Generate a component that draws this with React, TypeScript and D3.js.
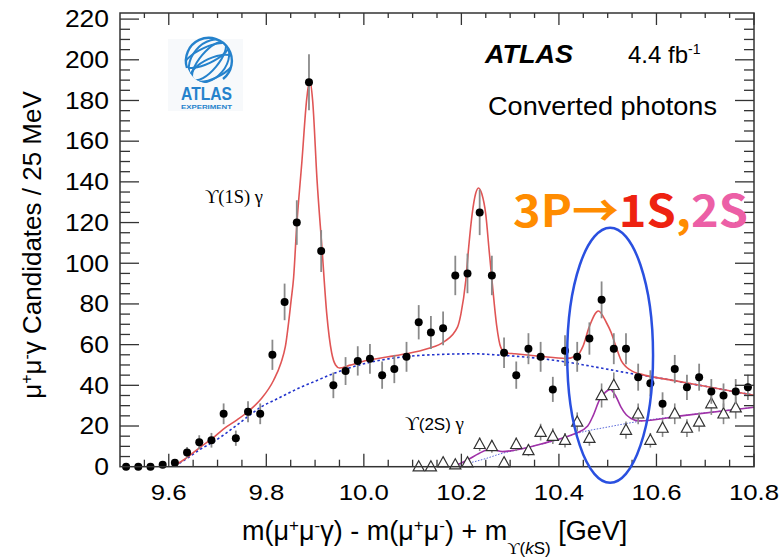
import React from "react";
import * as d3 from "d3";

const W = 782;
const H = 560;

// Bin centres (25 MeV bins) and counts for the Υ(1S)γ candidates
const massBins1S = [
  9.5125, 9.5375, 9.5625, 9.5875, 9.6125, 9.6375, 9.6625, 9.6875, 9.7125, 9.7375,
  9.7625, 9.7875, 9.8125, 9.8375, 9.8625, 9.8875, 9.9125, 9.9375, 9.9625, 9.9875,
  10.0125, 10.0375, 10.0625, 10.0875, 10.1125, 10.1375, 10.1625, 10.1875, 10.2125, 10.2375,
  10.2625, 10.2875, 10.3125, 10.3375, 10.3625, 10.3875, 10.4125, 10.4375, 10.4625, 10.4875,
  10.5125, 10.5375, 10.5625, 10.5875, 10.6125, 10.6375, 10.6625, 10.6875, 10.7125, 10.7375,
  10.7625, 10.7875,
];
const counts1S = [
  0, 0, 0, 1, 2, 7, 12, 13, 26, 14,
  27, 26, 55, 81, 120, 189, 106, 40, 47, 52,
  53, 45, 48, 54, 71, 66, 68, 94, 95, 125,
  94, 56, 45, 58, 54, 38, 57, 54, 63, 82,
  58, 58, 44, 41, 31, 48, 39, 44, 37, 35,
  37, 39,
];

// Bin centres and counts for the Υ(2S)γ candidates
const massBins2S = [
  10.1125, 10.1375, 10.1625, 10.1875, 10.2125, 10.2375, 10.2625, 10.2875, 10.3125, 10.3375,
  10.3625, 10.3875, 10.4125, 10.4375, 10.4625, 10.4875, 10.5125, 10.5375, 10.5625, 10.5875,
  10.6125, 10.6375, 10.6625, 10.6875, 10.7125, 10.7375, 10.7625,
];
const counts2S = [
  0, 0, 2, 1, 2, 11, 10, 2, 11, 8,
  17, 15, 13, 22, 14, 35, 40, 18, 26, 13,
  19, 26, 19, 22, 31, 26, 29,
];

// Fit curves: [mass, candidates]
const fit1S: [number, number][] = [
  [9.5, 0], [9.605, 0], [9.62, 1.8], [9.64, 5], [9.664, 9.5], [9.69, 14], [9.712, 18.5],
  [9.74, 23], [9.767, 28], [9.79, 33.5], [9.815, 42.5], [9.83, 51], [9.839, 59],
  [9.851, 82], [9.856, 93], [9.862, 117], [9.873, 150], [9.883, 181], [9.889, 190],
  [9.895, 180], [9.904, 141], [9.914, 108], [9.924, 75], [9.934, 56], [9.942, 50],
  [9.95, 48.5], [9.97, 49.8], [10.007, 52.3], [10.05, 54], [10.089, 55.6], [10.13, 58],
  [10.164, 61.3], [10.192, 68.6], [10.199, 75], [10.209, 91.5], [10.215, 108],
  [10.222, 124], [10.229, 134], [10.235, 137], [10.242, 134], [10.25, 124],
  [10.257, 106], [10.263, 91], [10.272, 70], [10.281, 58.5], [10.29, 56], [10.31, 55.5],
  [10.36, 54.3], [10.414, 53.2], [10.438, 54.8], [10.449, 59], [10.462, 68.6],
  [10.481, 76.5], [10.497, 71], [10.507, 66], [10.517, 59], [10.528, 52], [10.538, 49],
  [10.55, 47], [10.568, 45.5], [10.637, 42.3], [10.7, 39.5], [10.8, 35.1],
];
const bkg1S: [number, number][] = [
  [9.5, 0], [9.605, 0], [9.62, 1.5], [9.64, 4.5], [9.664, 8.5], [9.69, 12], [9.712, 15.5],
  [9.74, 20.5], [9.767, 25.5], [9.79, 29.5], [9.815, 32.5], [9.84, 35.5], [9.87, 39],
  [9.9, 42], [9.938, 45.8], [9.97, 48.5], [10.007, 51], [10.05, 53], [10.09, 54.2],
  [10.16, 55.2], [10.226, 55.5], [10.28, 54.8], [10.349, 53.5], [10.414, 51.5],
  [10.493, 48.2], [10.548, 45.8], [10.6, 43.8], [10.7, 39.5], [10.8, 35.1],
];
const fit2S: [number, number][] = [
  [9.5, 0], [10.18, 0], [10.192, 1], [10.2125, 3.3], [10.236, 6.5], [10.26, 8.7],
  [10.284, 7.4], [10.311, 8.2], [10.334, 9.3], [10.361, 11], [10.387, 12.7],
  [10.411, 14.4], [10.435, 16.5], [10.459, 20], [10.47, 25], [10.483, 32.7],
  [10.495, 36.5], [10.505, 38], [10.517, 34.5], [10.527, 29.4], [10.538, 25.5],
  [10.548, 23.7], [10.565, 22.5], [10.65, 25], [10.8, 29.2],
];
const bkg2S: [number, number][] = [
  [10.18, 0], [10.21, 1.5], [10.25, 4], [10.28, 6.3], [10.311, 8.1], [10.361, 10.9],
  [10.411, 14.2], [10.435, 16.2], [10.5, 19.5], [10.565, 22.3], [10.65, 25], [10.8, 29.2],
];

const xTickLabels = ["9.6", "9.8", "10.0", "10.2", "10.4", "10.6", "10.8"];
const yTickLabels = ["0", "20", "40", "60", "80", "100", "120", "140", "160", "180", "200", "220"];

const SANS = "'Liberation Sans', Arial, Helvetica, sans-serif";
const SERIF = "'Liberation Serif', 'Times New Roman', serif";

export default function App() {
  const left = 120, right = 754, top = 13, bottom = 466.7;
  const x = d3.scaleLinear().domain([9.5, 10.8]).range([left, right]);
  const y = d3.scaleLinear().domain([0, 223]).range([bottom, top]);

  const line = d3
    .line<[number, number]>()
    .x((d) => x(d[0]))
    .y((d) => y(d[1]))
    .curve(d3.curveMonotoneX);

  const minorX = d3.range(9.55, 10.8001, 0.05);
  const minorY = d3.range(5, 223, 5);
  const isMajorX = (v: number) => xTickLabels.some((t) => Math.abs(+t - v) < 1e-6);
  const isMajorY = (v: number) => v % 20 === 0;

  const axisColor = "#333";
  const errColor = "#8a8a8a";
  const logoBlue = "#2582cc";

  return (
    <svg width={W} height={H} style={{ display: "block", position: "absolute", left: 0, top: 0, background: "#fff" }}>
      <defs>
        <clipPath id="plot">
          <rect x={left} y={top} width={right - left} height={bottom - top} />
        </clipPath>
        <clipPath id="globe">
          <circle cx={0} cy={0} r={22.5} />
        </clipPath>
      </defs>

      {/* ATLAS logo */}
      <g>
        <rect x={168} y={39} width={75} height={72} fill="#f7f9fb" />
        <g transform="translate(209,61)" fill="none" stroke={logoBlue} strokeWidth={2.4}>
          <path d="M -22,7 A 23 23 0 1 1 14,18" />
          <g clipPath="url(#globe)" strokeWidth={2}>
            <ellipse rx={9} ry={24} transform="rotate(40)" />
            <ellipse rx={17} ry={24} transform="rotate(40)" />
            <ellipse rx={24} ry={8} transform="rotate(-25) translate(0,-6)" />
            <ellipse rx={24} ry={10} transform="rotate(-25) translate(0,8)" />
          </g>
        </g>
        <text x={181} y={99.5} fontFamily={SANS} fontWeight={700} fontSize={19} fill={logoBlue}
          textLength={51} lengthAdjust="spacingAndGlyphs">ATLAS</text>
        <text x={181} y={108.5} fontFamily={SANS} fontWeight={700} fontSize={6} fill={logoBlue}
          textLength={51} lengthAdjust="spacingAndGlyphs">EXPERIMENT</text>
      </g>

      {/* Fit curves */}
      <g clipPath="url(#plot)" fill="none">
        <path d={line(bkg1S) || ""} stroke="#2233cc" strokeWidth={1.6} strokeDasharray="2.5,2.5" />
        <path d={line(fit1S) || ""} stroke="#e05555" strokeWidth={1.6} />
        <path d={line(bkg2S) || ""} stroke="#4455d5" strokeWidth={0.9} strokeDasharray="1.5,1.5" />
        <path d={line(fit2S) || ""} stroke="#a032a8" strokeWidth={1.6} />
      </g>

      {/* Υ(2S)γ data: open triangles */}
      <g>
        {massBins2S.map((m, i) => {
          const v = counts2S[i];
          const e = Math.sqrt(v);
          return (
            <g key={"t" + i}>
              {e > 0 && (
                <line x1={x(m)} x2={x(m)} y1={y(v + e)} y2={y(Math.max(0, v - e))} stroke={errColor} strokeWidth={1.6} />
              )}
              <path
                d="M0,-6 L5.6,4.2 L-5.6,4.2 Z"
                transform={`translate(${x(m)},${y(v)})`}
                fill="#fff"
                stroke="#333"
                strokeWidth={1.2}
              />
            </g>
          );
        })}
      </g>

      {/* Υ(1S)γ data: filled circles */}
      <g>
        {massBins1S.map((m, i) => {
          const v = counts1S[i];
          const e = Math.sqrt(v);
          return (
            <g key={"c" + i}>
              {e > 0 && (
                <line x1={x(m)} x2={x(m)} y1={y(v + e)} y2={y(Math.max(0, v - e))} stroke={errColor} strokeWidth={1.8} />
              )}
              <circle cx={x(m)} cy={y(v)} r={4} fill="#000" />
            </g>
          );
        })}
      </g>

      {/* Frame and ticks */}
      <g stroke={axisColor} strokeWidth={1.3}>
        <rect x={left} y={top} width={right - left} height={bottom - top} fill="none" strokeWidth={1.5} />
        {minorY.map((v) => {
          const len = isMajorY(v) ? 19 : 10;
          return (
            <g key={"yt" + v}>
              <line x1={left} x2={left + len} y1={y(v)} y2={y(v)} />
              <line x1={right} x2={right - len} y1={y(v)} y2={y(v)} />
            </g>
          );
        })}
        {minorX.map((v) => {
          const maj = isMajorX(v);
          return (
            <g key={"xt" + v.toFixed(3)}>
              <line x1={x(v)} x2={x(v)} y1={bottom} y2={bottom - (maj ? 13 : 7)} />
              <line x1={x(v)} x2={x(v)} y1={top} y2={top + (maj ? 12 : 5)} />
            </g>
          );
        })}
      </g>

      {/* Tick labels */}
      <g fontFamily={SANS} fontSize={23} fill="#000">
        {yTickLabels.map((t) => (
          <text key={"yl" + t} transform={`translate(109,${y(+t)}) scale(1.15,1)`} textAnchor="end" dy="0.36em">
            {t}
          </text>
        ))}
        {xTickLabels.map((t) => (
          <text key={"xl" + t} transform={`translate(${x(+t)},500) scale(1.12,1)`} textAnchor="middle">
            {t}
          </text>
        ))}
      </g>

      {/* Axis titles */}
      <text transform="translate(41,245) rotate(-90)" textAnchor="middle" fontFamily={SANS} fontSize={26} fill="#000">
        μ<tspan dy={-9} fontSize={16}>+</tspan>
        <tspan dy={9}>μ</tspan>
        <tspan dy={-9} fontSize={16}>-</tspan>
        <tspan dy={9}>γ Candidates / 25 MeV</tspan>
      </text>
      <text x={242} y={540} fontFamily={SANS} fontSize={27} fill="#000">
        m(μ<tspan dy={-9} fontSize={17}>+</tspan>
        <tspan dy={9}>μ</tspan>
        <tspan dy={-9} fontSize={17}>-</tspan>
        <tspan dy={9}>γ) - m(μ</tspan>
        <tspan dy={-9} fontSize={17}>+</tspan>
        <tspan dy={9}>μ</tspan>
        <tspan dy={-9} fontSize={17}>-</tspan>
        <tspan dy={9}>) + m</tspan>
        <tspan dy={14} fontSize={17} fontFamily={SERIF}>ϒ</tspan>
        <tspan fontSize={17}>(</tspan>
        <tspan fontSize={17} fontStyle="italic">k</tspan>
        <tspan fontSize={17}>S)</tspan>
        <tspan dy={-14}> [GeV]</tspan>
      </text>

      {/* Peak labels */}
      <text x={205} y={203} fontFamily={SERIF} fontSize={18.5} fill="#000">
        ϒ(1S) γ
      </text>
      <text x={405} y={430} fontSize={19} fill="#000">
        <tspan fontFamily={SERIF}>ϒ</tspan>
        <tspan fontFamily={SANS} fontSize={17}>(2S)</tspan>
        <tspan fontFamily={SERIF}> γ</tspan>
      </text>

      {/* Experiment labels */}
      <text x={485} y={63} fontFamily={SANS} fontWeight={700} fontStyle="italic" fontSize={26}
        textLength={88} lengthAdjust="spacingAndGlyphs">ATLAS</text>
      <text x={628} y={63} fontFamily={SANS} fontSize={24}>
        4.4 fb<tspan dy={-9} fontSize={14}>-1</tspan>
      </text>
      <text x={488} y={115} fontFamily={SANS} fontSize={26} textLength={229} lengthAdjust="spacingAndGlyphs">
        Converted photons
      </text>

      {/* Transition annotation */}
      <text x={513} y={227} fontFamily="'Noto Sans CJK SC', 'Noto Sans', sans-serif" fontWeight={700} fontSize={44}
        textLength={235} lengthAdjust="spacingAndGlyphs">
        <tspan fill="#ff8c00">3P→</tspan>
        <tspan fill="#ee2211">1S</tspan>
        <tspan fill="#ff8c00">,</tspan>
        <tspan fill="#ec5fa6">2S</tspan>
      </text>
      <ellipse cx={x(10.505)} cy={y(54.8)} rx={x(10.593) - x(10.505)} ry={y(0) - y(62.7)}
        fill="none" stroke="#2a50e0" strokeWidth={2.5} />
    </svg>
  );
}
